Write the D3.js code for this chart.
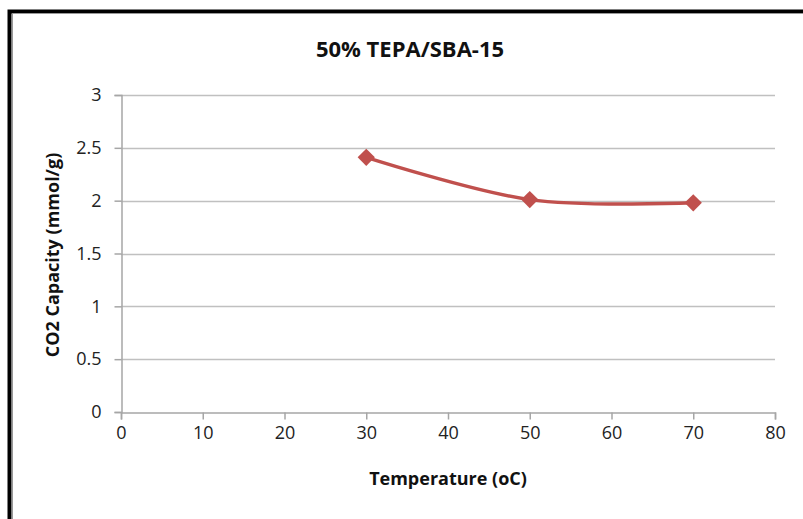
<!DOCTYPE html>
<html>
<head>
<meta charset="utf-8">
<script src="https://cdn.jsdelivr.net/npm/d3@7"></script>
<style>
  body { margin: 0; background: #fff; }
  svg { display: block; font-family: "Open Sans", "Noto Sans", sans-serif; }
</style>
</head>
<body>
<svg id="chart"></svg>
<script>
const temperature = [30, 50, 70];
const capacity = [2.41, 2.01, 1.98];
const xTicks = [0, 10, 20, 30, 40, 50, 60, 70, 80];
const yTicks = [0, 0.5, 1, 1.5, 2, 2.5, 3];

const width = 803;
const height = 519;
const margin = { left: 121, right: 28, top: 95, bottom: 107 };

const svg = d3.select("#chart").attr("width", width).attr("height", height);

// frame (only left and top edges show in the crop)
svg.append("path")
  .attr("d", `M9.5,${height} V11.5 H${width}`)
  .attr("fill", "none")
  .attr("stroke", "#000")
  .attr("stroke-width", 4);
svg.append("path")
  .attr("d", `M12.5,${height} V13.5 H${width}`)
  .attr("fill", "none")
  .attr("stroke", "#999")
  .attr("stroke-width", 1);

const x = d3.scaleLinear().domain([0, 80]).range([margin.left, width - margin.right]);
const y = d3.scaleLinear().domain([0, 3]).range([height - margin.bottom, margin.top]);

// gridlines
svg.append("g")
  .selectAll("line")
  .data(yTicks.slice(1))
  .enter()
  .append("line")
  .attr("x1", x(0))
  .attr("x2", x(80))
  .attr("y1", (d) => Math.round(y(d)) + 0.5)
  .attr("y2", (d) => Math.round(y(d)) + 0.5)
  .attr("stroke", "#c0c0c0")
  .attr("stroke-width", 1.5);

// axes
const xAxis = d3.axisBottom(x).tickValues(xTicks).tickSize(7).tickPadding(7);
const yAxis = d3.axisLeft(y).tickValues(yTicks).tickFormat((d) => String(d)).tickSize(7).tickPadding(13);

const gx = svg.append("g")
  .attr("transform", `translate(0, ${Math.round(y(0)) + 0.5})`)
  .call(xAxis);
const gy = svg.append("g")
  .attr("transform", `translate(${x(0) + 0.5}, 0)`)
  .call(yAxis);

[gx, gy].forEach((g) => {
  g.select(".domain").attr("stroke", "#a6a6a6").attr("stroke-width", 1.5);
  g.selectAll(".tick line").attr("stroke", "#a6a6a6").attr("stroke-width", 1.5);
  g.selectAll(".tick text")
    .attr("fill", "#222")
    .style("font-size", "18px")
    .style("font-family", "'Open Sans', sans-serif");
});

// line
const line = d3.line()
  .x((d) => x(d[0]))
  .y((d) => y(d[1]))
  .curve(d3.curveCatmullRom.alpha(0));

const pts = temperature.map((t, i) => [t, capacity[i]]);

svg.append("path")
  .datum(pts)
  .attr("d", line)
  .attr("fill", "none")
  .attr("stroke", "#c0504d")
  .attr("stroke-width", 3.5);

svg.append("g")
  .selectAll("path")
  .data(pts)
  .enter()
  .append("path")
  .attr("d", d3.symbol().type(d3.symbolDiamond2).size(190))
  .attr("transform", (d) => `translate(${x(d[0])}, ${y(d[1])})`)
  .attr("fill", "#c0504d");

// titles
svg.append("text")
  .attr("x", 410)
  .attr("y", 57)
  .attr("text-anchor", "middle")
  .style("font-size", "22px")
  .style("font-weight", "bold")
  .attr("fill", "#111")
  .text("50% TEPA/SBA-15");

svg.append("text")
  .attr("x", 448)
  .attr("y", 485)
  .attr("text-anchor", "middle")
  .style("font-size", "18px")
  .style("font-weight", "bold")
  .attr("fill", "#111")
  .text("Temperature (oC)");

svg.append("text")
  .attr("transform", "rotate(-90)")
  .attr("x", -255)
  .attr("y", 59)
  .attr("text-anchor", "middle")
  .style("font-size", "18px")
  .style("font-weight", "bold")
  .attr("fill", "#111")
  .text("CO2 Capacity (mmol/g)");
</script>
</body>
</html>
